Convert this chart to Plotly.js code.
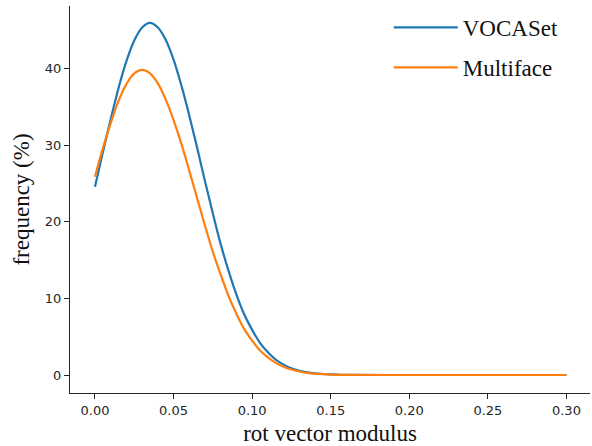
<!DOCTYPE html>
<html>
<head>
<meta charset="utf-8">
<script src="https://cdn.plot.ly/plotly-3.0.1.min.js"></script>
<style>html,body{margin:0;padding:0;background:#fff;}#chart{width:592px;height:446px;}</style>
</head>
<body>
<div id="chart"></div>
<script>
// rot vector modulus (x) sample points
const xValues = [0, 0.005, 0.01, 0.015, 0.02, 0.025, 0.03, 0.035, 0.04, 0.045, 0.05, 0.055, 0.06, 0.065, 0.07, 0.075, 0.08, 0.085, 0.09, 0.095, 0.1, 0.105, 0.11, 0.115, 0.12, 0.125, 0.13, 0.135, 0.14, 0.145, 0.15, 0.155, 0.16, 0.2, 0.25, 0.3];
// frequency (%)
const vocaset = [24.6, 29.1, 33.4, 37.5, 41.0, 43.7, 45.4, 46.0, 45.4, 43.8, 41.2, 37.8, 33.9, 29.7, 25.3, 21.1, 17.1, 13.6, 10.5, 7.9, 5.9, 4.2, 2.96, 2.0, 1.36, 0.88, 0.56, 0.35, 0.21, 0.13, 0.07, 0.04, 0.02, 0, 0, 0];
const multiface = [25.9, 29.6, 32.9, 35.8, 38.0, 39.4, 39.85, 39.4, 38.1, 36.0, 33.3, 30.2, 26.7, 23.1, 19.5, 16.1, 13.1, 10.3, 8.0, 6.0, 4.5, 3.2, 2.3, 1.58, 1.07, 0.71, 0.46, 0.29, 0.18, 0.11, 0.06, 0.03, 0.02, 0, 0, 0];
const seriesNames = ["VOCASet", "Multiface"];
const xTicks = [0, 0.05, 0.1, 0.15, 0.2, 0.25, 0.3];
const xTickLabels = ["0.00", "0.05", "0.10", "0.15", "0.20", "0.25", "0.30"];
const yTicks = [0, 10, 20, 30, 40];

const serif = "Liberation Serif, Times New Roman, serif";
const traces = [
  {x: xValues, y: vocaset, name: seriesNames[0], type: "scatter", mode: "lines",
   line: {color: "#1f77b4", width: 2.2, shape: "spline", smoothing: 1}, legendgroup: "a"},
  {x: xValues, y: multiface, name: seriesNames[1], type: "scatter", mode: "lines",
   line: {color: "#ff7f0e", width: 2.2, shape: "spline", smoothing: 1}, legendgroup: "b"}
];
const axisCommon = {
  showline: true, linecolor: "#262626", linewidth: 1.2, showgrid: false, zeroline: false,
  ticks: "outside", ticklen: 5, tickwidth: 1, tickcolor: "#262626",
  tickfont: {family: "DejaVu Sans", size: 13, color: "#262626"}
};
const layout = {
  width: 592, height: 446,
  margin: {l: 70, r: 2, t: 6, b: 53},
  paper_bgcolor: "#fff", plot_bgcolor: "#fff",
  showlegend: true,
  legend: {x: 0.613, y: 1.0, xanchor: "left", yanchor: "top", bgcolor: "rgba(0,0,0,0)",
           font: {family: serif, size: 23, color: "#111"}, tracegroupgap: 7, itemwidth: 64},
  xaxis: Object.assign({}, axisCommon, {
    range: [-0.0159, 0.315], tickvals: xTicks, ticktext: xTickLabels,
    title: {text: "rot vector modulus", font: {family: serif, size: 23, color: "#111"}, standoff: 8}
  }),
  yaxis: Object.assign({}, axisCommon, {
    range: [-2.35, 48.2], tickvals: yTicks,
    title: {text: "frequency (%)", font: {family: serif, size: 23, color: "#111"}, standoff: 8}
  })
};
Plotly.newPlot("chart", traces, layout, {displayModeBar: false, staticPlot: true});
</script>
</body>
</html>
